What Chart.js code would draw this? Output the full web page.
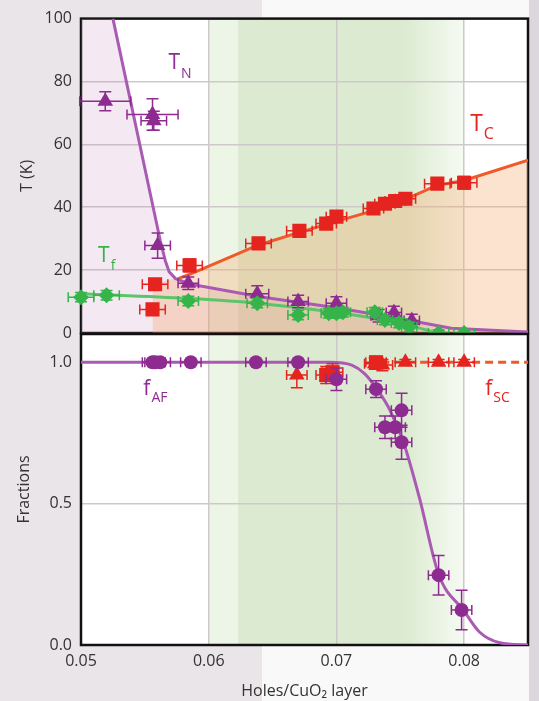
<!DOCTYPE html>
<html>
<head>
<meta charset="utf-8">
<script src="https://cdn.jsdelivr.net/npm/chart.js@4.4.0/dist/chart.umd.min.js"></script>
<style>
    html, body { margin: 0; padding: 0; }
    body {
        width: 539px; height: 701px; position: relative; overflow: hidden;
        background: linear-gradient(to right, #e9e5e9 0, #e9e5e9 262px, #f9f9f9 262px, #f9f9f9 529px, #dcd7de 529px);
    }
    canvas { position: absolute; left: 0; top: 0; }
</style>
</head>
<body>
<canvas id="graficoT" width="539" height="701"></canvas>
<canvas id="graficoF" width="539" height="701"></canvas>
<script>
// Ejes
const xTicks = [0.05, 0.06, 0.07, 0.08];
const tTicks = [0, 20, 40, 60, 80, 100];
const fTicks = [0, 0.5, 1.0];

// T_N (triangulos)
const tnX    = [0.0519, 0.0556, 0.0557, 0.0560, 0.0584, 0.0638, 0.0670, 0.0700, 0.0733, 0.0745, 0.0759];
const tnY    = [73.7, 69.5, 67.5, 27.8, 15.8, 12.5, 10, 9.5, 5.5, 6.5, 4];
const tnXerr = [0.002, 0.002, 0.001, 0.001, 0.0008, 0.0009, 0.0008, 0.0008, 0.0006, 0.0006, 0.0006];
const tnYerr = [3, 5, 3, 4, 2, 2.5, 2, 2, 2, 2, 2];
const tnLineX = [0.0525, 0.0562, 0.0566, 0.0569, 0.0574, 0.0585, 0.0640, 0.0700, 0.0750, 0.0790, 0.0850];
const tnLineY = [100, 29.5, 23, 19.5, 17.3, 15.6, 11.5, 8, 4.5, 1.5, 0.3];

// T_C (cuadrados)
const tcX    = [0.0556, 0.0558, 0.0585, 0.0639, 0.0671, 0.0692, 0.0700, 0.0729, 0.0738, 0.0746, 0.0754, 0.0779, 0.0800];
const tcY    = [7.5, 15.5, 21.5, 28.5, 32.5, 34.8, 37, 39.6, 41.1, 42, 42.7, 47.5, 47.8];
const tcXerr = [0.001, 0.001, 0.001, 0.001, 0.001, 0.0008, 0.0008, 0.0008, 0.0008, 0.0008, 0.0008, 0.001, 0.001];
const tcYerr = [1.5, 1.5, 2, 1.5, 1.5, 1.5, 1.5, 1.5, 1.5, 1.5, 1.5, 1.5, 2];
const tcLineX = [0.0576, 0.0586, 0.0639, 0.0671, 0.0700, 0.0730, 0.0754, 0.0779, 0.0800, 0.0850];
const tcLineY = [17.3, 18.8, 28, 32, 35.5, 39, 42.5, 47, 48.5, 55];

// T_f (rombos)
const tfX    = [0.0500, 0.0520, 0.0584, 0.0638, 0.0670, 0.0694, 0.0700, 0.0705, 0.0730, 0.0738, 0.0749, 0.0757, 0.0780, 0.0800];
const tfY    = [11.4, 12, 10.2, 9.5, 5.7, 6.3, 6.3, 6.6, 6.6, 4.1, 3.2, 1.9, 0, 0];
const tfXerr = [0.001, 0.001, 0.0008, 0.0008, 0.0008, 0.0006, 0.0006, 0.0006, 0.0006, 0.0006, 0.0006, 0.0006, 0.0008, 0.0008];
const tfYerr = [1.5, 1.5, 1.5, 1.5, 1.5, 1.5, 1.5, 1.5, 1.5, 1.5, 1.5, 1.5, 1, 1];
const tfLineX = [0.0500, 0.0584, 0.0638, 0.0700, 0.0745, 0.0775];
const tfLineY = [12.5, 11, 9.5, 6.5, 3.5, 0.5];

// f_AF (circulos)
const fafX    = [0.0556, 0.0558, 0.0562, 0.0586, 0.0637, 0.0670, 0.0700, 0.0731, 0.0751, 0.0738, 0.0746, 0.0751, 0.0780, 0.0798];
const fafY    = [1.0, 1.0, 1.0, 1.0, 1.0, 1.0, 0.94, 0.905, 0.83, 0.77, 0.77, 0.717, 0.247, 0.124];
const fafXerr = [0.0008, 0.0008, 0.0008, 0.0008, 0.0008, 0.0008, 0.0008, 0.0008, 0.0008, 0.0008, 0.0008, 0.0008, 0.0008, 0.0008];
const fafYerr = [0.01, 0.01, 0.01, 0.01, 0.01, 0.01, 0.04, 0.03, 0.06, 0.04, 0.04, 0.06, 0.07, 0.07];
const fafLineX = [0.0500, 0.0695, 0.0712, 0.0722, 0.0731, 0.0742, 0.0753, 0.0765, 0.0780, 0.0800, 0.0812, 0.0828, 0.0850];
const fafLineY = [1.0, 1.0, 0.99, 0.96, 0.91, 0.83, 0.71, 0.52, 0.25, 0.12, 0.046, 0.008, 0];

// f_SC (triangulos y cuadrados)
const fscTriX    = [0.0669, 0.0730, 0.0736, 0.0754, 0.0780, 0.0800];
const fscTriY    = [0.955, 0.995, 0.99, 1.0, 1.0, 1.0];
const fscTriXerr = [0.0008, 0.0008, 0.0008, 0.0008, 0.0008, 0.0008];
const fscTriYerr = [0.045, 0.02, 0.02, 0.01, 0.01, 0.01];
const fscSqX    = [0.0692, 0.0697, 0.0731];
const fscSqY    = [0.955, 0.965, 1.0];
const fscSqXerr = [0.0008, 0.0008, 0.0008];
const fscSqYerr = [0.03, 0.03, 0.02];
const fscLineX = [0.0735, 0.0850];
const fscLineY = [1.0, 1.0];

// Colores
const morado = '#8d2b91';
const moradoLinea = '#a95bb3';
const rojo = '#e5231f';
const naranja = '#ef5a2a';
const verde = '#35b44a';
const verdeLinea = '#5cc46a';

Chart.defaults.font.family = '"Open Sans", sans-serif';
Chart.defaults.color = '#333';

function puntos(xs, ys) {
    return xs.map((x, i) => ({ x: x, y: ys[i] }));
}

// Fondo blanco, banda verde y marco
const fondo = {
    id: 'fondo',
    beforeDraw(chart) {
        const { ctx, chartArea: a } = chart;
        const xs = chart.scales.x;
        ctx.save();
        ctx.fillStyle = '#ffffff';
        ctx.fillRect(a.left, a.top, a.right - a.left, a.bottom - a.top);
        const b0 = xs.getPixelForValue(0.0600), b1 = xs.getPixelForValue(0.0623);
        const b2 = xs.getPixelForValue(0.0753), b3 = xs.getPixelForValue(0.0800);
        ctx.fillStyle = 'rgb(237,245,230)';
        ctx.fillRect(b0, a.top, b1 - b0, a.bottom - a.top);
        ctx.fillStyle = 'rgb(219,234,208)';
        ctx.fillRect(b1, a.top, b2 - b1, a.bottom - a.top);
        const g = ctx.createLinearGradient(b2, 0, b3, 0);
        g.addColorStop(0, 'rgb(219,234,208)');
        g.addColorStop(0.45, 'rgb(232,242,224)');
        g.addColorStop(1, 'rgb(246,250,243)');
        ctx.fillStyle = g;
        ctx.fillRect(b2, a.top, b3 - b2, a.bottom - a.top);
        ctx.restore();
    },
    beforeDatasetsDraw(chart) {
        const { ctx, chartArea: a } = chart;
        ctx.save();
        ctx.strokeStyle = '#111';
        ctx.lineWidth = 2.5;
        ctx.strokeRect(a.left, a.top, a.right - a.left, a.bottom - a.top);
        ctx.restore();
    }
};

// Barras de error
const barrasError = {
    id: 'barrasError',
    beforeDatasetDraw(chart, args) {
        const ds = chart.data.datasets[args.index];
        if (!ds.errX && !ds.errY) return;
        const ctx = chart.ctx;
        const xs = chart.scales.x, ys = chart.scales.y;
        ctx.save();
        ctx.strokeStyle = ds.borderColor;
        ctx.lineWidth = 1.5;
        ds.data.forEach((p, i) => {
            const px = xs.getPixelForValue(p.x), py = ys.getPixelForValue(p.y);
            const ex = ds.errX ? ds.errX[i] : 0;
            const ey = ds.errY ? ds.errY[i] : 0;
            ctx.beginPath();
            if (ex) {
                const x1 = xs.getPixelForValue(p.x - ex), x2 = xs.getPixelForValue(p.x + ex);
                ctx.moveTo(x1, py); ctx.lineTo(x2, py);
                ctx.moveTo(x1, py - 5); ctx.lineTo(x1, py + 5);
                ctx.moveTo(x2, py - 5); ctx.lineTo(x2, py + 5);
            }
            if (ey) {
                const y1 = ys.getPixelForValue(p.y - ey), y2 = ys.getPixelForValue(p.y + ey);
                ctx.moveTo(px, y1); ctx.lineTo(px, y2);
                ctx.moveTo(px - 6, y1); ctx.lineTo(px + 6, y1);
                ctx.moveTo(px - 6, y2); ctx.lineTo(px + 6, y2);
            }
            ctx.stroke();
        });
        ctx.restore();
    }
};

// Etiquetas con subindice
const etiquetas = {
    id: 'etiquetas',
    afterDatasetsDraw(chart, args, opts) {
        const ctx = chart.ctx;
        (opts.items || []).forEach(it => {
            const px = chart.scales.x.getPixelForValue(it.x);
            const py = chart.scales.y.getPixelForValue(it.y);
            ctx.save();
            ctx.fillStyle = it.color;
            ctx.textBaseline = 'alphabetic';
            ctx.font = it.size + 'px "Open Sans"';
            ctx.fillText(it.main, px, py);
            const w = ctx.measureText(it.main).width;
            ctx.font = Math.round(it.size * 0.68) + 'px "Open Sans"';
            ctx.fillText(it.sub, px + w + 1, py + it.drop);
            ctx.restore();
        });
    }
};

function ejeX(conEtiquetas) {
    return {
        type: 'linear', min: 0.05, max: 0.085,
        afterBuildTicks: s => { s.ticks = xTicks.map(v => ({ value: v })); },
        afterFit: s => { s.height = conEtiquetas ? 56 : 0; },
        grid: { color: '#cdc9c9', lineWidth: 1.5, drawTicks: false },
        border: { display: false },
        ticks: {
            display: conEtiquetas, padding: 7,
            font: { size: 16 },
            callback: v => v.toFixed(2)
        },
        title: {
            display: conEtiquetas, text: 'Holes/CuO\u2082 layer',
            font: { size: 16 }, padding: { top: 0, bottom: 0 }
        }
    };
}

// Panel superior: temperaturas
new Chart(document.getElementById('graficoT'), {
    type: 'scatter',
    data: {
        datasets: [
            { data: puntos(tfX, tfY), errX: tfXerr, errY: tfYerr, pointStyle: 'rectRot', pointRadius: 8,
              backgroundColor: verde, borderColor: verde, borderWidth: 0, clip: 12, order: 1 },
            { data: puntos(tnX, tnY), errX: tnXerr, errY: tnYerr, pointStyle: 'triangle', pointRadius: 9,
              backgroundColor: morado, borderColor: morado, borderWidth: 0, clip: 12, order: 2 },
            { data: puntos(tcX, tcY), errX: tcXerr, errY: tcYerr, pointStyle: 'rect', pointRadius: 10,
              backgroundColor: rojo, borderColor: rojo, borderWidth: 0, clip: 12, order: 3 },
            { data: puntos(tfLineX, tfLineY), showLine: true, pointRadius: 0, borderColor: verdeLinea,
              borderWidth: 3, cubicInterpolationMode: 'monotone', order: 4 },
            { data: puntos(tnLineX, tnLineY), showLine: true, pointRadius: 0, borderColor: moradoLinea,
              borderWidth: 3, tension: 0, borderJoinStyle: 'round', order: 5 },
            { data: puntos(tcLineX, tcLineY), showLine: true, pointRadius: 0, borderColor: naranja,
              borderWidth: 3, order: 6 },
            // rellenos
            { data: puntos([0.0556].concat(tcLineX.slice(1)), [15.5].concat(tcLineY.slice(1))), showLine: true,
              pointRadius: 0, borderWidth: 0, fill: 'origin', backgroundColor: 'rgba(245,168,105,0.32)', order: 8 },
            { data: puntos([0.05].concat(tnLineX), [100].concat(tnLineY)), showLine: true,
              pointRadius: 0, borderWidth: 0, fill: 'origin', backgroundColor: 'rgba(200,140,190,0.2)',
              tension: 0, order: 9 }
        ]
    },
    options: {
        responsive: false, animation: false, events: [],
        layout: { padding: { left: 0, right: 11, top: 17, bottom: 368 } },
        plugins: {
            legend: { display: false }, tooltip: { enabled: false },
            etiquetas: { items: [
                { main: 'T', sub: 'N', x: 0.05685, y: 83.9, color: morado, size: 21, drop: 9 },
                { main: 'T', sub: 'C', x: 0.08047, y: 64.2, color: rojo, size: 23, drop: 8 },
                { main: 'T', sub: 'f', x: 0.05134, y: 22.5, color: verde, size: 21, drop: 8 }
            ] }
        },
        scales: {
            x: ejeX(false),
            y: {
                min: 0, max: 100,
                afterBuildTicks: s => { s.ticks = tTicks.map(v => ({ value: v })); },
                afterFit: s => { s.width = 81; },
                grid: { color: ctx => (ctx.tick.value === 0 || ctx.tick.value === 100) ? 'rgba(0,0,0,0)' : '#cdc9c9', lineWidth: 1.5, drawTicks: false },
                border: { display: false },
                ticks: { padding: 9, font: { size: 16 } },
                title: { display: true, text: 'T (K)', font: { size: 16 }, padding: { top: 18, bottom: 0 } }
            }
        }
    },
    plugins: [fondo, barrasError, etiquetas]
});

// Panel inferior: fracciones
new Chart(document.getElementById('graficoF'), {
    type: 'scatter',
    data: {
        datasets: [
            { data: puntos(fafX, fafY), errX: fafXerr, errY: fafYerr, pointStyle: 'circle', pointRadius: 7,
              backgroundColor: morado, borderColor: morado, borderWidth: 0, clip: 12, order: 1 },
            { data: puntos(fscSqX, fscSqY), errX: fscSqXerr, errY: fscSqYerr, pointStyle: 'rect', pointRadius: 10,
              backgroundColor: rojo, borderColor: rojo, borderWidth: 0, clip: 12, order: 2 },
            { data: puntos(fscTriX, fscTriY), errX: fscTriXerr, errY: fscTriYerr, pointStyle: 'triangle', pointRadius: 9,
              backgroundColor: rojo, borderColor: rojo, borderWidth: 0, clip: 12, order: 3 },
            { data: puntos(fscLineX, fscLineY), showLine: true, pointRadius: 0, borderColor: naranja,
              borderWidth: 3, borderDash: [8, 5], order: 4 },
            { data: puntos(fafLineX, fafLineY), showLine: true, pointRadius: 0, borderColor: moradoLinea,
              borderWidth: 3, cubicInterpolationMode: 'monotone', order: 5 }
        ]
    },
    options: {
        responsive: false, animation: false, events: [],
        layout: { padding: { left: 0, right: 11, top: 334, bottom: 0 } },
        plugins: {
            legend: { display: false }, tooltip: { enabled: false },
            etiquetas: { items: [
                { main: 'f', sub: 'AF', x: 0.05488, y: 0.883, color: morado, size: 21, drop: 7 },
                { main: 'f', sub: 'SC', x: 0.08165, y: 0.883, color: rojo, size: 21, drop: 7 }
            ] }
        },
        scales: {
            x: ejeX(true),
            y: {
                min: 0, max: 1.1,
                afterBuildTicks: s => { s.ticks = fTicks.map(v => ({ value: v })); },
                afterFit: s => { s.width = 81; },
                grid: { color: ctx => (ctx.tick.value === 0.5) ? '#cdc9c9' : 'rgba(0,0,0,0)', lineWidth: 1.5, drawTicks: false },
                border: { display: false },
                ticks: { padding: 9, font: { size: 16 }, callback: v => v.toFixed(1) },
                title: { display: true, text: 'Fractions', font: { size: 16 }, padding: { top: 15, bottom: 0 } }
            }
        }
    },
    plugins: [fondo, barrasError, etiquetas]
});
</script>
</body>
</html>
